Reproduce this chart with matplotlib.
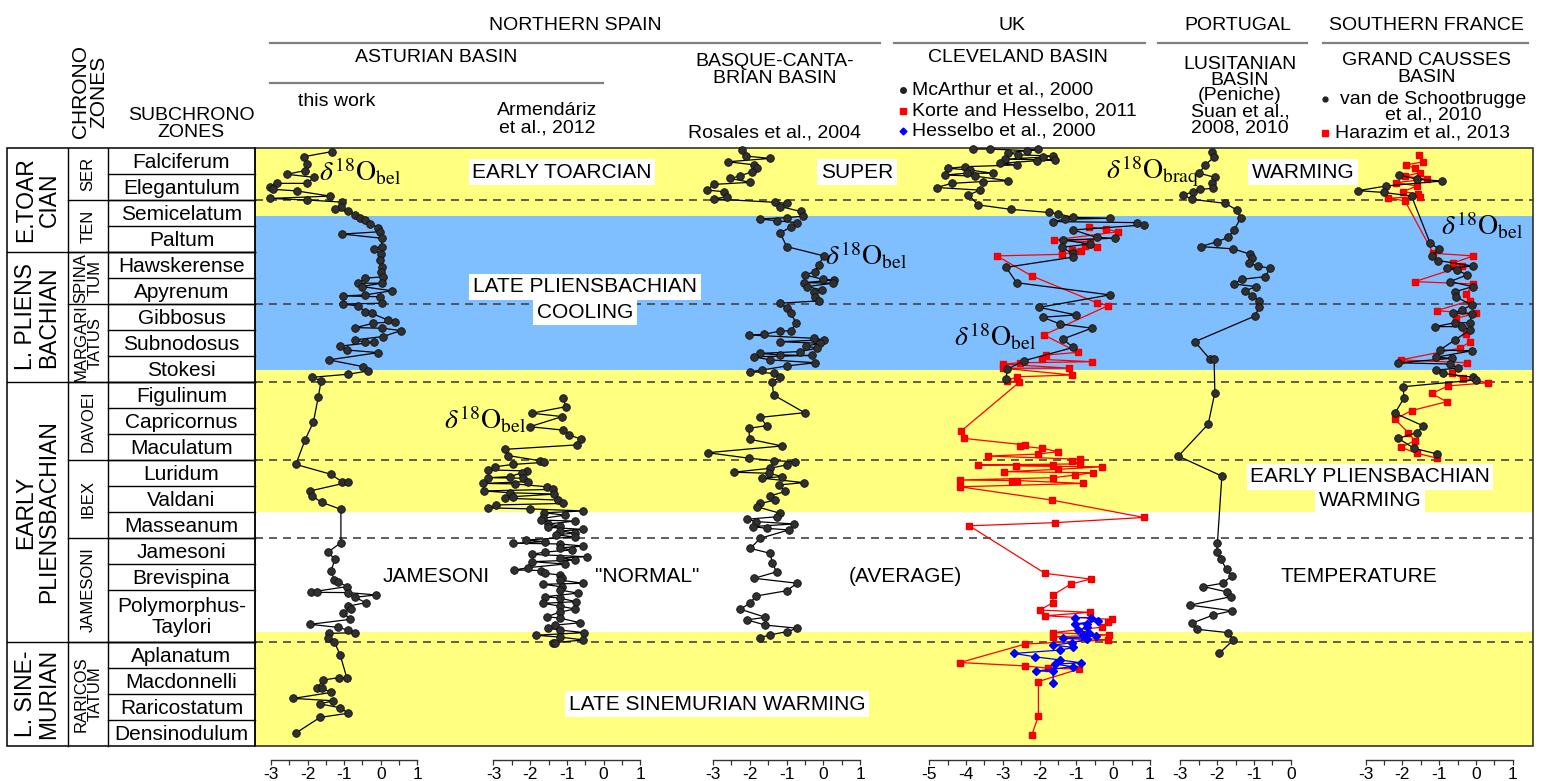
import matplotlib
matplotlib.use("Agg")
import matplotlib.pyplot as plt
from matplotlib.patches import Rectangle
from matplotlib.ticker import MultipleLocator

W, H = 1546, 781
plt.rcParams['font.family'] = ['Liberation Sans', 'DejaVu Sans']
plt.rcParams['mathtext.fontset'] = 'stix'
plt.rcParams['axes.unicode_minus'] = False

# ---------------- stratigraphy (table) ----------------
subzones = ["Falciferum", "Elegantulum", "Semicelatum", "Paltum", "Hawskerense", "Apyrenum",
            "Gibbosus", "Subnodosus", "Stokesi", "Figulinum", "Capricornus", "Maculatum",
            "Luridum", "Valdani", "Masseanum", "Jamesoni", "Brevispina", "Polymorphus-\nTaylori",
            "Aplanatum", "Macdonnelli", "Raricostatum", "Densinodulum"]
subzone_span = [1] * 17 + [2] + [1] * 4
zones = ["SER", "TEN", "SPINA\nTUM", "MARGARI\nTATUS", "DAVOEI", "IBEX", "JAMESONI", "RARICOS\nTATUM"]
zone_span = [2, 2, 2, 3, 3, 3, 4, 4]
stages = ["E.TOAR\nCIAN", "L. PLIENS\nBACHIAN", "EARLY\nPLIENSBACHIAN", "L. SINE-\nMURIAN"]
stage_span = [4, 5, 10, 4]
dashed_levels = [2, 6, 9, 12, 15, 19]
band_edges = [0, 2.6, 8.55, 14.0, 18.6, 23]
band_colors = ["#FFFF80", "#80BFFF", "#FFFF80", "#FFFFFF", "#FFFF80"]

# ---------------- data: (level in subzone units from top, d18O) ----------------
asturian_this = [(0.14,-1.34),(0.33,-2.09),(0.62,-2.02),(0.87,-2.07),(1.01,-2.57),(1.13,-1.82),(1.36,-2.02),(1.36,-2.84),
 (1.49,-3.03),(1.59,-2.94),(1.65,-2.30),(1.85,-1.39),(1.94,-3.03),(2.00,-2.02),(2.08,-1.07),(2.25,-1.09),(2.36,-1.25),
 (2.44,-0.89),(2.57,-0.70),(2.70,-0.57),(2.77,-0.43),(2.92,-0.30),(3.06,-0.07),(3.22,-0.02),(3.31,-1.05),(3.47,0.02),
 (3.79,0.02),(3.87,-0.19),(4.08,0.00),(4.31,-0.02),(4.56,0.02),(4.76,0.00),(4.95,0.07),(5.01,-0.43),(5.20,-0.61),
 (5.20,0.02),(5.33,-0.52),(5.49,0.30),(5.65,-0.43),(5.69,-1.02),(5.72,-0.02),(5.97,0.02),(6.00,-1.02),(6.08,-0.61),
 (6.29,-0.43),(6.36,-0.25),(6.62,0.20),(6.68,0.39),(6.74,-0.20),(6.91,-0.70),(6.93,0.02),(7.02,0.55),(7.25,0.07),
 (7.38,-0.70),(7.47,-0.43),(7.47,-0.18),(7.62,-1.11),(7.77,-0.93),(7.87,-0.07),(8.15,-1.42),(8.41,-0.48),(8.58,-0.36),
 (8.70,-0.89),(8.82,-1.87),(8.95,-1.63),(9.59,-1.71),(10.53,-1.84),(11.23,-2.07),(12.17,-2.32),(12.55,-1.36),
 (12.83,-1.07),(12.86,-0.90),(13.19,-1.93),(13.38,-1.89),(13.63,-1.61),(13.90,-1.09),(15.18,-1.09),(15.55,-1.45),
 (15.81,-1.25),(16.26,-1.36),(16.62,-1.27),(16.68,-1.16),(16.87,-0.93),(17.08,-1.91),(17.09,-1.75),(17.10,-0.89),
 (17.19,-0.13),(17.28,-0.70),(17.49,-0.41),(17.62,-0.90),(17.74,-0.81),(17.87,-1.02),(18.13,-0.84),(18.32,-1.93),
 (18.44,-1.16),(18.54,-0.90),(18.64,-0.70),(18.67,-1.42),(18.86,-1.44),(18.99,-1.27),(19.50,-1.11),(20.37,-0.93),
 (20.37,-1.14),(20.46,-1.57),(20.78,-1.75),(20.78,-1.61),(20.94,-1.36),(21.17,-2.39),(21.26,-1.30),(21.38,-1.66),
 (21.53,-1.11),(21.74,-0.89),(21.90,-1.66),(22.51,-2.33)]

asturian_armendariz = [(9.60,-1.10),(9.95,-1.03),(10.20,-1.96),(10.33,-1.13),(10.72,-2.01),(10.85,-1.10),(11.04,-0.94),
 (11.19,-0.62),(11.42,-0.73),(11.59,-2.69),(11.83,-2.60),(12.03,-1.73),(12.09,-1.62),(12.17,-2.46),(12.26,-2.96),
 (12.38,-3.14),(12.42,-2.10),(12.49,-2.23),(12.64,-2.55),(12.68,-3.14),(12.70,-2.19),(12.83,-2.05),(12.90,-3.28),
 (12.92,-2.41),(13.03,-1.55),(13.13,-1.37),(13.19,-3.27),(13.26,-2.55),(13.31,-1.34),(13.41,-2.46),(13.47,-2.69),
 (13.54,-1.23),(13.67,-1.10),(13.73,-2.94),(13.84,-3.14),(13.88,-2.01),(13.96,-0.55),(14.03,-1.62),(14.12,-1.05),
 (14.24,-1.64),(14.31,-1.71),(14.35,-0.78),(14.46,-1.52),(14.54,-1.19),(14.59,-1.51),(14.67,-0.55),(14.73,-1.19),
 (14.81,-0.78),(14.88,-1.30),(14.96,-0.78),(15.08,-2.12),(15.14,-1.60),(15.20,-2.46),(15.23,-1.19),(15.31,-0.55),
 (15.38,-1.19),(15.46,-0.86),(15.54,-1.60),(15.63,-1.96),(15.72,-0.46),(15.77,-1.19),(15.85,-0.78),(15.91,-1.96),
 (16.00,-1.05),(16.14,-2.05),(16.23,-2.43),(16.25,-1.71),(16.36,-1.60),(16.42,-1.19),(16.54,-1.13),(16.62,-1.19),
 (16.74,-0.55),(16.78,-1.64),(16.88,-1.13),(17.00,-1.19),(17.12,-0.70),(17.26,-1.60),(17.31,-1.19),(17.45,-0.76),
 (17.51,-1.64),(17.62,-1.19),(17.73,-0.78),(17.85,-1.19),(18.03,-1.55),(18.08,-1.19),(18.26,-0.64),(18.35,-1.32),
 (18.47,-1.51),(18.54,-1.19),(18.64,-0.53),(18.74,-1.85),(18.81,-1.19),(18.92,-0.55),(19.03,-1.37),(19.04,-1.32)]

basque_rosales = [(0.08,-2.20),(0.31,-2.11),(0.40,-1.44),(0.53,-2.59),(0.65,-1.87),(0.78,-1.80),(0.91,-1.93),
 (1.08,-2.27),(1.17,-2.52),(1.32,-1.98),(1.40,-2.97),(1.62,-3.15),(1.68,-2.70),(1.87,-2.61),(1.96,-2.97),
 (2.09,-1.30),(2.13,-0.98),(2.25,-1.17),(2.44,-0.62),(2.62,-0.55),(2.68,-1.00),(2.73,-1.71),(2.80,-1.27),
 (2.87,-0.71),(3.05,-0.89),(3.26,-1.17),(3.79,-1.00),(4.15,0.01),(4.50,-0.13),(4.76,-0.22),(4.88,-0.51),
 (5.05,-0.01),(5.08,0.28),(5.18,-0.53),(5.20,0.26),(5.33,-0.44),(5.46,-0.04),(5.52,-0.26),(5.72,-0.22),
 (5.88,-0.13),(5.97,-1.17),(6.17,-0.98),(6.36,-0.89),(6.74,-0.73),(7.03,-0.89),(7.04,-1.17),(7.17,-1.62),
 (7.19,-2.02),(7.32,-0.26),(7.38,0.01),(7.45,-1.17),(7.51,-0.10),(7.62,-0.46),(7.70,-0.17),(7.83,-0.64),
 (7.90,-1.71),(7.96,-1.17),(7.98,-0.31),(8.03,-1.89),(8.15,-1.44),(8.26,-0.22),(8.38,-0.98),(8.54,-1.66),
 (8.60,-1.98),(8.67,-1.35),(8.82,-1.17),(8.99,-1.39),(9.50,-1.35),(10.18,-0.51),(10.36,-1.71),(10.68,-1.54),
 (10.78,-2.02),(11.20,-2.00),(11.46,-1.12),(11.72,-3.14),(11.93,-2.02),(12.03,-1.33),(12.06,-0.76),
 (12.19,-1.00),(12.32,-1.46),(12.47,-2.43),(12.51,-1.48),(12.64,-1.12),(12.70,-1.66),(12.87,-0.53),
 (12.96,-1.21),(13.21,-1.03),(13.38,-1.44),(13.54,-1.30),(13.67,-1.71),(13.80,-1.80),(14.05,-1.17),
 (14.18,-1.25),(14.28,-2.07),(14.37,-1.82),(14.46,-0.80),(14.56,-1.91),(14.63,-1.53),(14.69,-0.94),
 (15.01,-1.71),(15.40,-1.98),(15.59,-1.44),(15.95,-1.39),(16.30,-1.27),(16.55,-1.87),(16.74,-0.71),
 (17.03,-1.00),(17.23,-1.82),(17.51,-2.00),(17.74,-2.25),(18.05,-1.57),(18.15,-2.07),(18.35,-1.57),
 (18.47,-0.71),(18.60,-0.98),(18.73,-1.46),(18.83,-1.71)]

cleveland_mcarthur = [(0.04,-3.81),(0.04,-3.34),(0.10,-2.35),(0.05,-2.03),(0.18,-2.85),(0.26,-2.58),(0.31,-1.64),
 (0.35,-1.90),(0.43,-2.94),(0.46,-1.58),(0.49,-2.08),(0.59,-3.07),(0.65,-2.62),(0.72,-4.02),(0.78,-4.48),
 (0.85,-3.89),(0.97,-3.26),(0.97,-3.98),(1.04,-4.57),(1.08,-3.75),(1.26,-2.85),(1.29,-3.53),(1.36,-4.39),
 (1.52,-4.79),(1.62,-3.62),(1.81,-3.93),(2.19,-3.66),(2.36,-2.78),(2.48,-1.73),(2.53,-1.49),(2.67,-1.08),
 (2.70,-0.09),(2.74,-1.31),(2.83,-1.63),(2.87,0.64),(2.96,0.84),(3.15,-1.08),(3.44,-0.45),(3.47,0.05),
 (3.54,-1.35),(3.69,-0.63),(3.82,-1.40),(4.05,-1.10),(4.20,-1.10),(4.59,-2.91),(5.18,-2.62),(5.65,-0.09),
 (6.13,-2.01),(6.42,-1.01),(6.51,-1.91),(6.77,-1.44),(6.93,-0.58),(7.35,-1.37),(7.67,-1.08),(8.18,-2.42),
 (8.51,-2.88),(8.90,-2.91)]

cleveland_korte = [(3.03,-0.65),(3.13,-0.18),(3.22,0.14),(3.54,-1.61),(3.60,-0.63),(3.77,-0.77),(3.82,-0.45),
 (3.92,-1.13),(3.95,-0.86),(4.09,-1.40),(4.15,-3.16),(4.92,-2.21),(5.95,-0.45),(6.06,-0.13),(7.19,-1.88),
 (7.86,-0.95),(7.96,-1.81),(8.13,-1.94),(8.22,-0.56),(8.26,-2.53),(8.31,-2.98),(8.47,-1.19),(8.47,-2.98),
 (8.73,-1.13),(8.80,-2.60),(8.95,-2.89),(9.01,-2.55),(10.90,-4.14),(11.17,-4.05),(11.42,-2.39),(11.46,-2.53),
 (11.55,-1.94),(11.68,-1.49),(11.77,-2.03),(11.85,-3.39),(11.97,-0.90),(12.03,-1.13),(12.15,-0.90),
 (12.19,-3.66),(12.19,-1.63),(12.23,-2.64),(12.26,-0.31),(12.36,-1.49),(12.45,-2.96),(12.49,-0.54),
 (12.58,-1.04),(12.68,-1.63),(12.77,-4.16),(12.79,-2.76),(12.79,-2.62),(12.90,-0.81),(13.03,-4.16),
 (13.54,-1.67),(14.21,0.84),(14.41,-1.58),(14.53,-3.91),(16.36,-1.85),(16.58,-0.61),(16.77,-1.15),
 (17.19,-1.63),(17.49,-1.64),(17.77,-1.99),(17.86,-0.63),(17.99,-1.85),(18.13,-0.04),(18.22,-0.13),
 (18.43,-0.31),(18.64,-1.64),(18.73,-0.11),(18.80,-1.63),(18.92,-0.13),(19.08,-2.39),(19.79,-4.16),
 (19.92,-2.39),(20.01,-1.76),(20.04,-0.92),(20.52,-2.03),(21.85,-2.03),(22.58,-2.21)]

cleveland_hesselbo = [(18.06,-1.04),(18.06,-0.61),(18.18,-0.40),(18.31,-1.04),(18.31,-0.72),(18.41,-0.70),
 (18.54,-0.95),(18.64,-0.65),(18.73,-0.83),(18.77,-0.47),(18.86,-1.37),(18.90,-0.72),(19.03,-1.13),
 (19.12,-1.63),(19.21,-1.08),(19.31,-1.44),(19.44,-2.69),(19.57,-2.12),(19.69,-1.44),(19.80,-0.88),
 (19.85,-1.58),(19.95,-1.10),(20.12,-2.10),(20.12,-1.63),(20.59,-1.63)]

lusitanian_suan = [(0.14,-2.15),(0.36,-2.08),(0.65,-2.33),(0.97,-2.48),(1.13,-2.06),(1.33,-2.15),(1.55,-2.10),
 (1.59,-2.46),(1.68,-2.64),(1.81,-2.92),(1.97,-2.69),(2.13,-1.78),(2.38,-1.47),(2.70,-1.36),(3.15,-1.54),
 (3.44,-1.70),(3.60,-1.99),(3.79,-2.44),(3.88,-1.56),(4.08,-1.11),(4.24,-1.06),(4.44,-1.13),(4.54,-0.88),
 (4.63,-0.56),(4.95,-0.70),(5.05,-1.33),(5.23,-1.54),(5.33,-0.94),(5.49,-1.24),(5.69,-1.06),(5.87,-0.85),
 (6.10,-0.85),(6.46,-0.97),(7.45,-2.60),(8.13,-2.19),(8.13,-2.08),(9.41,-2.06),(10.62,-2.24),(11.85,-3.05),
 (12.62,-1.87),(15.18,-1.99),(15.53,-2.01),(15.82,-1.90),(16.21,-1.74),(16.46,-1.60),(16.74,-1.85),
 (16.87,-2.37),(17.07,-1.74),(17.26,-1.63),(17.58,-2.73),(17.80,-1.60),(17.96,-2.10),(18.28,-2.69),
 (18.51,-2.55),(18.64,-1.70),(18.92,-1.56),(19.44,-1.94)]

causses_schootbrugge = [(1.04,-2.08),(1.20,-1.61),(1.27,-0.93),(1.46,-2.43),(1.64,-3.20),(1.71,-2.50),(1.85,-1.75),
 (3.64,-1.25),(3.90,-1.00),(4.15,-1.20),(4.33,-1.02),(4.54,-0.09),(4.63,-0.80),(4.69,-0.52),(4.88,-0.24),
 (5.14,-0.71),(5.33,-0.09),(5.53,-0.57),(5.72,-0.54),(6.04,-0.12),(6.23,-0.39),(6.36,-0.62),(6.38,-0.12),
 (6.72,-0.16),(6.72,-0.57),(6.87,-1.11),(6.87,-0.39),(7.00,-0.16),(7.38,-0.57),(7.77,-0.98),(7.80,-0.12),
 (8.05,-1.09),(8.09,-0.66),(8.26,-2.11),(8.31,-0.71),(8.47,-0.48),(8.54,-1.09),(8.67,-0.89),(8.82,-0.07),
 (8.92,0.00),(9.18,-1.97),(9.63,-1.96),(10.20,-2.20),(10.69,-1.43),(10.95,-1.61),(11.17,-2.11),(11.55,-1.68),
 (11.77,-1.05)]

causses_harazim = [(0.27,-1.54),(0.53,-1.43),(0.65,-1.90),(0.78,-1.66),(0.95,-1.52),(1.08,-1.93),(1.20,-1.34),
 (1.33,-2.17),(1.46,-1.61),(1.68,-1.97),(1.77,-1.57),(1.87,-1.52),(1.93,-2.38),(2.03,-1.93),(4.05,-1.16),
 (4.15,-0.07),(4.42,-0.62),(4.55,-0.39),(5.14,-1.66),(5.23,-0.07),(5.62,-0.27),(5.87,-0.16),(6.26,-1.07),
 (6.36,0.00),(6.55,-0.54),(7.15,-0.27),(7.45,-0.16),(7.70,-0.43),(8.15,-2.04),(8.26,-0.25),(8.67,-0.66),
 (8.86,-0.34),(9.03,0.33),(9.15,-0.75),(9.44,-1.20),(9.76,-0.80),(10.10,-1.75),(10.43,-2.20),(10.95,-1.84),
 (11.26,-1.66),(11.51,-2.04),(11.74,-1.61),(11.93,-1.05)]

# axis ranges for each panel (d18O)
axis_ranges = [(-3, 1), (-3, 1), (-3, 1), (-5, 1), (-3, 0), (-3, 1)]

# ---------------- layout ----------------
TOP, ROW = 148, 26
AXY = 760
TL, C1, C2, C3, PR = 7, 68, 108, 255, 1533
panel_px = [(271.0, 417.4), (493.5, 640.3), (712.7, 860.3), (929.1, 1149.9), (1180.2, 1290.8), (1365.5, 1512.8)]

def zy(u):
    return TOP + ROW * u

fig = plt.figure(figsize=(W / 100, H / 100), dpi=100)
bg = fig.add_axes([0, 0, 1, 1])
bg.set_xlim(0, W)
bg.set_ylim(H, 0)
bg.axis('off')

# bands
for i, c in enumerate(band_colors):
    y0, y1 = zy(band_edges[i]), zy(band_edges[i + 1])
    bg.add_patch(Rectangle((C3, y0), PR - C3, y1 - y0, fc=c, ec='none', zorder=1))
for lv in dashed_levels:
    bg.plot([C3, PR], [zy(lv)] * 2, color='#444444', lw=1.2, ls=(0, (4.8, 3.6)), zorder=2)
bg.add_patch(Rectangle((C3, TOP), PR - C3, zy(23) - TOP, fc='none', ec='#222222', lw=1.1, zorder=3))

# table
tk = dict(color='black', lw=1.0, zorder=3)
bg.add_patch(Rectangle((TL, TOP), C3 - TL, zy(23) - TOP, fc='none', ec='black', lw=1.1, zorder=3))
bg.plot([C1, C1], [TOP, zy(23)], **tk)
bg.plot([C2, C2], [TOP, zy(23)], **tk)
u = 0
for name, sp in zip(subzones, subzone_span):
    if u > 0:
        bg.plot([C2, C3], [zy(u)] * 2, **tk)
    bg.text((C2 + C3) / 2, zy(u + sp / 2) + 1, name, ha='center', va='center', fontsize=15,
            linespacing=1.15, zorder=4)
    u += sp
u = 0
for name, sp in zip(zones, zone_span):
    if u > 0:
        bg.plot([C1, C3], [zy(u)] * 2, **tk)
    bg.text((C1 + C2) / 2, zy(u + sp / 2), name, ha='center', va='center', fontsize=12,
            rotation=90, linespacing=0.88, zorder=4)
    u += sp
u = 0
for name, sp in zip(stages, stage_span):
    if u > 0:
        bg.plot([TL, C3], [zy(u)] * 2, **tk)
    bg.text((TL + C1) / 2, zy(u + sp / 2), name, ha='center', va='center', fontsize=16.5,
            rotation=90, linespacing=1.0, zorder=4)
    u += sp

# headers
bg.text(90, 92, "CHRONO\nZONES", rotation=90, ha='center', va='center', fontsize=15, linespacing=0.95)
bg.text(191, 124, "SUBCHRONO\nZONES", ha='center', va='center', fontsize=14, linespacing=0.95)
hl = dict(color='#808080', lw=1.6)
bg.text(575, 25, "NORTHERN SPAIN", ha='center', va='center', fontsize=14)
bg.plot([270, 880], [43, 43], **hl)
bg.text(1012, 25, "UK", ha='center', va='center', fontsize=14)
bg.plot([894, 1145], [43, 43], **hl)
bg.text(1238, 25, "PORTUGAL", ha='center', va='center', fontsize=14)
bg.plot([1158, 1307], [43, 43], **hl)
bg.text(1426, 25, "SOUTHERN FRANCE", ha='center', va='center', fontsize=14)
bg.plot([1323, 1528], [43, 43], **hl)
bg.text(436, 58, "ASTURIAN BASIN", ha='center', va='center', fontsize=14)
bg.plot([270, 603], [83, 83], **hl)
bg.text(337, 101, "this work", ha='center', va='center', fontsize=14)
bg.text(547, 119, "Armendáriz\net al., 2012", ha='center', va='center', fontsize=14, linespacing=1.05)
bg.text(775, 70, "BASQUE-CANTA-\nBRIAN BASIN", ha='center', va='center', fontsize=14, linespacing=1.05)
bg.text(775, 133, "Rosales et al., 2004", ha='center', va='center', fontsize=14)
bg.text(1018, 58, "CLEVELAND BASIN", ha='center', va='center', fontsize=14)
bg.plot([903], [90], 'o', color='#222222', ms=4)
bg.text(912, 90, "McArthur et al., 2000", ha='left', va='center', fontsize=14)
bg.plot([903], [111], 's', color='red', ms=4)
bg.text(912, 111, "Korte and Hesselbo, 2011", ha='left', va='center', fontsize=14)
bg.plot([903], [131], 'D', color='blue', ms=3.5)
bg.text(912, 131, "Hesselbo et al., 2000", ha='left', va='center', fontsize=14)
bg.text(1240, 96, "LUSITANIAN\nBASIN\n(Peniche)\nSuan et al.,\n2008, 2010", ha='center', va='center',
        fontsize=14, linespacing=0.92)
bg.text(1427, 69, "GRAND CAUSSES\nBASIN", ha='center', va='center', fontsize=14, linespacing=1.0)
bg.plot([1325], [99], 'o', color='#222222', ms=3.5)
bg.text(1433, 107, "van de Schootbrugge\net al., 2010", ha='center', va='center', fontsize=14, linespacing=0.9)
bg.plot([1325], [133], 's', color='red', ms=4)
bg.text(1335, 133, "Harazim et al., 2013", ha='left', va='center', fontsize=14)

# labels in plot
box = dict(fc='white', ec='none', pad=2.5)
for (x, y, s) in [(562, 172, "EARLY TOARCIAN"), (857, 172, "SUPER"), (1303, 172, "WARMING"),
                  (585, 287, "LATE PLIENSBACHIAN"), (585, 312, "COOLING"),
                  (436, 577, "JAMESONI"), (647, 577, '"NORMAL"'), (905, 577, "(AVERAGE)"),
                  (1359, 577, "TEMPERATURE"), (1370, 477, "EARLY PLIENSBACHIAN"), (1370, 500, "WARMING"),
                  (717, 704, "LATE SINEMURIAN WARMING")]:
    bg.text(x, y, s, ha='center', va='center', fontsize=15, bbox=box, zorder=5)
d18 = r'$\delta^{18}\mathrm{O}_{\mathrm{bel}}$'
for (x, y) in [(360, 172), (485, 420), (866, 256), (995, 337), (1482, 226)]:
    bg.text(x, y, d18, ha='center', va='center', fontsize=20, zorder=5)
bg.text(1153, 172, r'$\delta^{18}\mathrm{O}_{\mathrm{braq}}$', ha='center', va='center', fontsize=20, zorder=5)

# ---------------- panels ----------------
def panel(i):
    x0, x1 = panel_px[i]
    vmin, vmax = axis_ranges[i]
    ax = fig.add_axes([x0 / W, 1 - AXY / H, (x1 - x0) / W, (AXY - TOP) / H])
    ax.set_xlim(vmin, vmax)
    ax.set_ylim((AXY - TOP) / ROW, 0)
    ax.patch.set_alpha(0)
    for s in ['top', 'left', 'right']:
        ax.spines[s].set_visible(False)
    ax.spines['bottom'].set_color('#333333')
    ax.spines['bottom'].set_linewidth(1.0)
    ax.set_yticks([])
    ax.xaxis.set_major_locator(MultipleLocator(1))
    ax.xaxis.set_minor_locator(MultipleLocator(0.5))
    ax.tick_params(axis='x', which='both', direction='out', length=3.8, width=0.9, color='#333333',
                   labelsize=12.5, pad=1.5)
    return ax

blk = dict(color='black', lw=0.9, marker='o', ms=5.5, mfc='#303030', mec='#111111', mew=0.6, clip_on=False)
red = dict(color='#FF0000', lw=0.9, marker='s', ms=5, mfc='#FF0000', mec='#EE0000', clip_on=False)
blu = dict(color='#0000FF', lw=0.9, marker='D', ms=4.5, mfc='#0000FF', mec='#0000EE', clip_on=False)

def draw(ax, series, style, z=3):
    lv = [p[0] for p in series]
    v = [p[1] for p in series]
    ax.plot(v, lv, zorder=z, **style)

axs = [panel(i) for i in range(6)]
draw(axs[0], asturian_this, blk)
draw(axs[1], asturian_armendariz, blk)
draw(axs[2], basque_rosales, blk)
draw(axs[3], cleveland_mcarthur, blk, 4)
draw(axs[3], cleveland_korte, red, 3)
draw(axs[3], cleveland_hesselbo, blu, 5)
draw(axs[4], lusitanian_suan, blk)
draw(axs[5], causses_harazim, red, 3)
draw(axs[5], causses_schootbrugge, blk, 4)

fig.savefig("out.png", dpi=100)
